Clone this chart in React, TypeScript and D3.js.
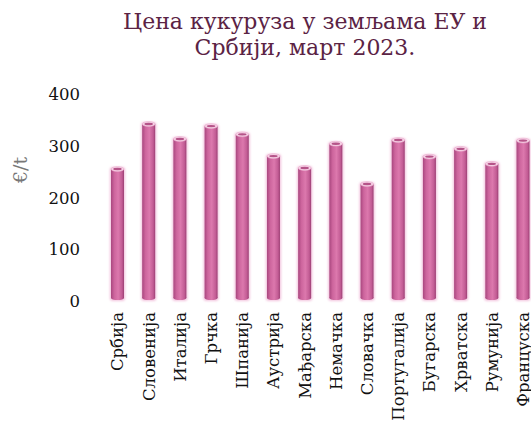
import React, { useRef, useEffect } from 'react';
import * as d3 from 'd3';

const countries = ['Србија', 'Словенија', 'Италија', 'Грчка', 'Шпанија', 'Аустрија', 'Мађарска',
	'Немачка', 'Словачка', 'Португалија', 'Бугарска', 'Хрватска', 'Румунија', 'Француска'];
const prices = [255, 342, 313, 338, 322, 280, 257, 304, 226, 311, 279, 294, 265, 310];
const yTicks = [0, 100, 200, 300, 400];
const titleLines = ['Цена кукуруза у земљама ЕУ и', 'Србији, март 2023.'];
const yLabel = '€/t';

const width = 531;
const height = 423;
const font = '"DejaVu Serif", serif';

const App: React.FC = () => {
	const ref = useRef<SVGSVGElement | null>(null);

	useEffect(() => {
		if (!ref.current) return;
		const svg = d3.select(ref.current);
		svg.selectAll('*').remove();

		const x = d3.scalePoint<string>().domain(countries).range([101.9, 538.6]).padding(0.5);
		const y = d3.scaleLinear().domain([0, 400]).range([301, 94]);
		const bw = 13;

		const defs = svg.append('defs');
		const grad = defs.append('linearGradient').attr('id', 'cyl').attr('x1', '0').attr('x2', '1');
		grad.append('stop').attr('offset', '0%').attr('stop-color', '#a9477f');
		grad.append('stop').attr('offset', '25%').attr('stop-color', '#cd659d');
		grad.append('stop').attr('offset', '55%').attr('stop-color', '#dc78ad');
		grad.append('stop').attr('offset', '85%').attr('stop-color', '#c25c94');
		grad.append('stop').attr('offset', '100%').attr('stop-color', '#9c3f74');

		const blur = defs.append('filter').attr('id', 'glow').attr('x', '-50%').attr('y', '-10%').attr('width', '200%').attr('height', '120%');
		blur.append('feGaussianBlur').attr('stdDeviation', 1.2);

		// Title
		svg.append('g').selectAll('text').data(titleLines).join('text')
			.attr('x', 305)
			.attr('y', (_, i) => 29 + i * 26)
			.attr('text-anchor', 'middle')
			.attr('font-family', font)
			.attr('font-size', 22)
			.attr('fill', '#5b2344')
			.text(d => d);

		// Y ticks
		svg.append('g').selectAll('text').data(yTicks).join('text')
			.attr('x', 80)
			.attr('y', d => y(d) + 6)
			.attr('text-anchor', 'end')
			.attr('font-family', font)
			.attr('font-size', 16.5)
			.attr('fill', '#111')
			.text(d => d);

		svg.append('text')
			.attr('transform', 'translate(27,170) rotate(-90)')
			.attr('text-anchor', 'middle')
			.attr('font-family', font)
			.attr('font-size', 19)
			.attr('fill', '#777')
			.text(yLabel);

		// Bars (cylinders)
		const bars = svg.append('g').selectAll('g').data(countries).join('g')
			.attr('transform', d => `translate(${x(d)},0)`);

		bars.append('rect')
			.attr('x', -bw / 2 - 1.2)
			.attr('y', (_, i) => y(prices[i]) - 2)
			.attr('width', bw + 2.4)
			.attr('height', (_, i) => y(0) - y(prices[i]) + 2)
			.attr('rx', 3)
			.attr('fill', '#f3c4de')
			.attr('filter', 'url(#glow)');

		bars.append('rect')
			.attr('x', -bw / 2)
			.attr('y', (_, i) => y(prices[i]))
			.attr('width', bw)
			.attr('height', (_, i) => y(0) - y(prices[i]) - 3)
			.attr('fill', 'url(#cyl)');

		bars.append('ellipse')
			.attr('cx', 0)
			.attr('cy', y(0) - 3)
			.attr('rx', bw / 2)
			.attr('ry', 2)
			.attr('fill', 'url(#cyl)');

		bars.append('ellipse')
			.attr('cx', 0)
			.attr('cy', (_, i) => y(prices[i]))
			.attr('rx', bw / 2)
			.attr('ry', 2.4)
			.attr('fill', '#f6d3e6')
			.attr('stroke', '#e9a9cc')
			.attr('stroke-width', 0.6);

		bars.append('ellipse')
			.attr('cx', 0)
			.attr('cy', (_, i) => y(prices[i]))
			.attr('rx', bw / 2 - 2.2)
			.attr('ry', 1.2)
			.attr('fill', '#b55489');

		// X labels
		svg.append('g').selectAll('text').data(countries).join('text')
			.attr('transform', d => `translate(${(x(d) as number) + 6},312) rotate(-90)`)
			.attr('text-anchor', 'end')
			.attr('font-family', font)
			.attr('font-size', 16.5)
			.attr('fill', '#111')
			.text(d => d);
	}, []);

	return (
		<svg ref={ref} width={width} height={height}
			style={{ position: 'absolute', left: 0, top: 0, display: 'block', background: '#fff' }} />
	);
};

export default App;
